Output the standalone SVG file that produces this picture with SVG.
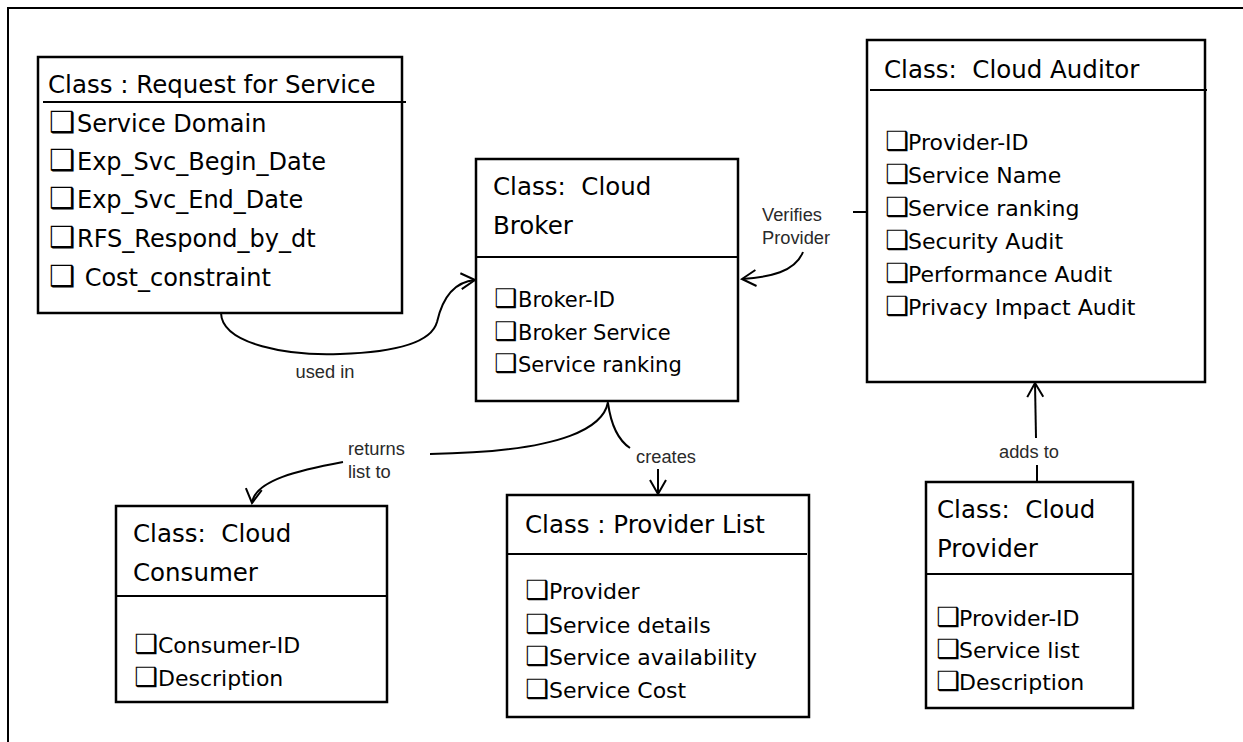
<svg xmlns="http://www.w3.org/2000/svg" width="1243" height="742" viewBox="0 0 1243 742">
<style>
.box{fill:#fff;stroke:#000;stroke-width:2.5}
.sep{stroke:#000;stroke-width:2}
.title{font-family:"DejaVu Sans",sans-serif;font-size:24.5px;fill:#000;white-space:pre}
.item{font-family:"DejaVu Sans",sans-serif;font-size:22px;fill:#000}
.big{font-size:24px}
.sm{font-size:21px}
.cb{font-family:"DejaVu Sans",sans-serif;font-size:1.22em;font-weight:bold}
.lbl{font-family:"Liberation Sans",Arial,sans-serif;font-size:18.3px;fill:#2a2a2a}
.conn{fill:none;stroke:#000;stroke-width:2}
</style>
<defs>
<marker id="arr" viewBox="0 0 16 18" refX="15" refY="9" markerWidth="16" markerHeight="18" markerUnits="userSpaceOnUse" orient="auto" overflow="visible">
<path d="M1,1 L15,9 L1,17" fill="none" stroke="#000" stroke-width="2"/>
</marker>
</defs>
<rect width="1243" height="742" fill="#fff"/>
<path d="M8,742 L8,8 L1243,8" fill="none" stroke="#000" stroke-width="2"/>

<g id="connectors">
<path class="conn" d="M221,313 C222,345 290,356 340,354 C405,352 432,340 437,322 C442,300 452,282 475,280" marker-end="url(#arr)"/>
<path class="conn" d="M853,212 L867,212"/>
<path class="conn" d="M803,252 C795,272 770,277 742,279" marker-end="url(#arr)"/>
<path class="conn" d="M608,402 C604,425 570,452 430,454"/>
<path class="conn" d="M343,462 C300,470 255,480 252,503" marker-end="url(#arr)"/>
<path class="conn" d="M608,403 C611,425 618,440 630,448"/>
<path class="conn" d="M658,469 L658,494" marker-end="url(#arr)"/>
<path class="conn" d="M1037,465 L1037,482"/>
<path class="conn" d="M1036,438 L1035,383" marker-end="url(#arr)"/>
<text class="lbl" x="325" y="378" text-anchor="middle">used in</text>
<text class="lbl" x="762" y="221">Verifies</text>
<text class="lbl" x="762" y="244">Provider</text>
<text class="lbl" x="348" y="455">returns</text>
<text class="lbl" x="348" y="478">list to</text>
<text class="lbl" x="636" y="463">creates</text>
<text class="lbl" x="999" y="458">adds to</text>
</g>

<g id="request-for-service">
<rect class="box" x="38" y="57" width="364" height="256"/>
<line class="sep" x1="43" y1="102" x2="406" y2="102"/>
<text class="title" x="48" y="93">Class : Request for Service</text>
<text class="item big" x="49" y="132"><tspan class="cb">❑</tspan><tspan x="77">Service Domain</tspan></text>
<text class="item big" x="49" y="170"><tspan class="cb">❑</tspan><tspan x="77">Exp_Svc_Begin_Date</tspan></text>
<text class="item big" x="49" y="208"><tspan class="cb">❑</tspan><tspan x="77">Exp_Svc_End_Date</tspan></text>
<text class="item big" x="49" y="247"><tspan class="cb">❑</tspan><tspan x="77">RFS_Respond_by_dt</tspan></text>
<text class="item big" x="49" y="286"><tspan class="cb">❑</tspan><tspan x="77"> Cost_constraint</tspan></text>
</g>

<g id="cloud-broker">
<rect class="box" x="476" y="159" width="262" height="242"/>
<line class="sep" x1="476" y1="257" x2="738" y2="257"/>
<text class="title" x="493" y="195">Class:  Cloud</text>
<text class="title" x="493" y="234">Broker</text>
<text class="item sm" x="494" y="307"><tspan class="cb">❑</tspan><tspan x="518">Broker-ID</tspan></text>
<text class="item sm" x="494" y="340"><tspan class="cb">❑</tspan><tspan x="518">Broker Service</tspan></text>
<text class="item sm" x="494" y="372"><tspan class="cb">❑</tspan><tspan x="518">Service ranking</tspan></text>
</g>

<g id="cloud-auditor">
<rect class="box" x="867" y="40" width="338" height="342"/>
<line class="sep" x1="870" y1="90" x2="1207" y2="90"/>
<text class="title" x="884" y="78">Class:  Cloud Auditor</text>
<text class="item" x="885" y="150"><tspan class="cb">❑</tspan><tspan x="908">Provider-ID</tspan></text>
<text class="item" x="885" y="183"><tspan class="cb">❑</tspan><tspan x="908">Service Name</tspan></text>
<text class="item" x="885" y="216"><tspan class="cb">❑</tspan><tspan x="908">Service ranking</tspan></text>
<text class="item" x="885" y="249"><tspan class="cb">❑</tspan><tspan x="908">Security Audit</tspan></text>
<text class="item" x="885" y="282"><tspan class="cb">❑</tspan><tspan x="908">Performance Audit</tspan></text>
<text class="item" x="885" y="315"><tspan class="cb">❑</tspan><tspan x="908">Privacy Impact Audit</tspan></text>
</g>

<g id="cloud-consumer">
<rect class="box" x="116" y="506" width="271" height="196"/>
<line class="sep" x1="116" y1="596" x2="387" y2="596"/>
<text class="title" x="133" y="542">Class:  Cloud</text>
<text class="title" x="133" y="581">Consumer</text>
<text class="item" x="134" y="653"><tspan class="cb">❑</tspan><tspan x="158">Consumer-ID</tspan></text>
<text class="item" x="134" y="686"><tspan class="cb">❑</tspan><tspan x="158">Description</tspan></text>
</g>

<g id="provider-list">
<rect class="box" x="507" y="495" width="302" height="222"/>
<line class="sep" x1="507" y1="554" x2="807" y2="554"/>
<text class="title" x="525" y="533">Class : Provider List</text>
<text class="item" x="525" y="599"><tspan class="cb">❑</tspan><tspan x="549">Provider</tspan></text>
<text class="item" x="525" y="633"><tspan class="cb">❑</tspan><tspan x="549">Service details</tspan></text>
<text class="item" x="525" y="665"><tspan class="cb">❑</tspan><tspan x="549">Service availability</tspan></text>
<text class="item" x="525" y="698"><tspan class="cb">❑</tspan><tspan x="549">Service Cost</tspan></text>
</g>

<g id="cloud-provider">
<rect class="box" x="926" y="482" width="207" height="226"/>
<line class="sep" x1="926" y1="574" x2="1133" y2="574"/>
<text class="title" x="937" y="518">Class:  Cloud</text>
<text class="title" x="937" y="557">Provider</text>
<text class="item" x="936" y="626"><tspan class="cb">❑</tspan><tspan x="959">Provider-ID</tspan></text>
<text class="item" x="936" y="658"><tspan class="cb">❑</tspan><tspan x="959">Service list</tspan></text>
<text class="item" x="936" y="690"><tspan class="cb">❑</tspan><tspan x="959">Description</tspan></text>
</g>
</svg>
